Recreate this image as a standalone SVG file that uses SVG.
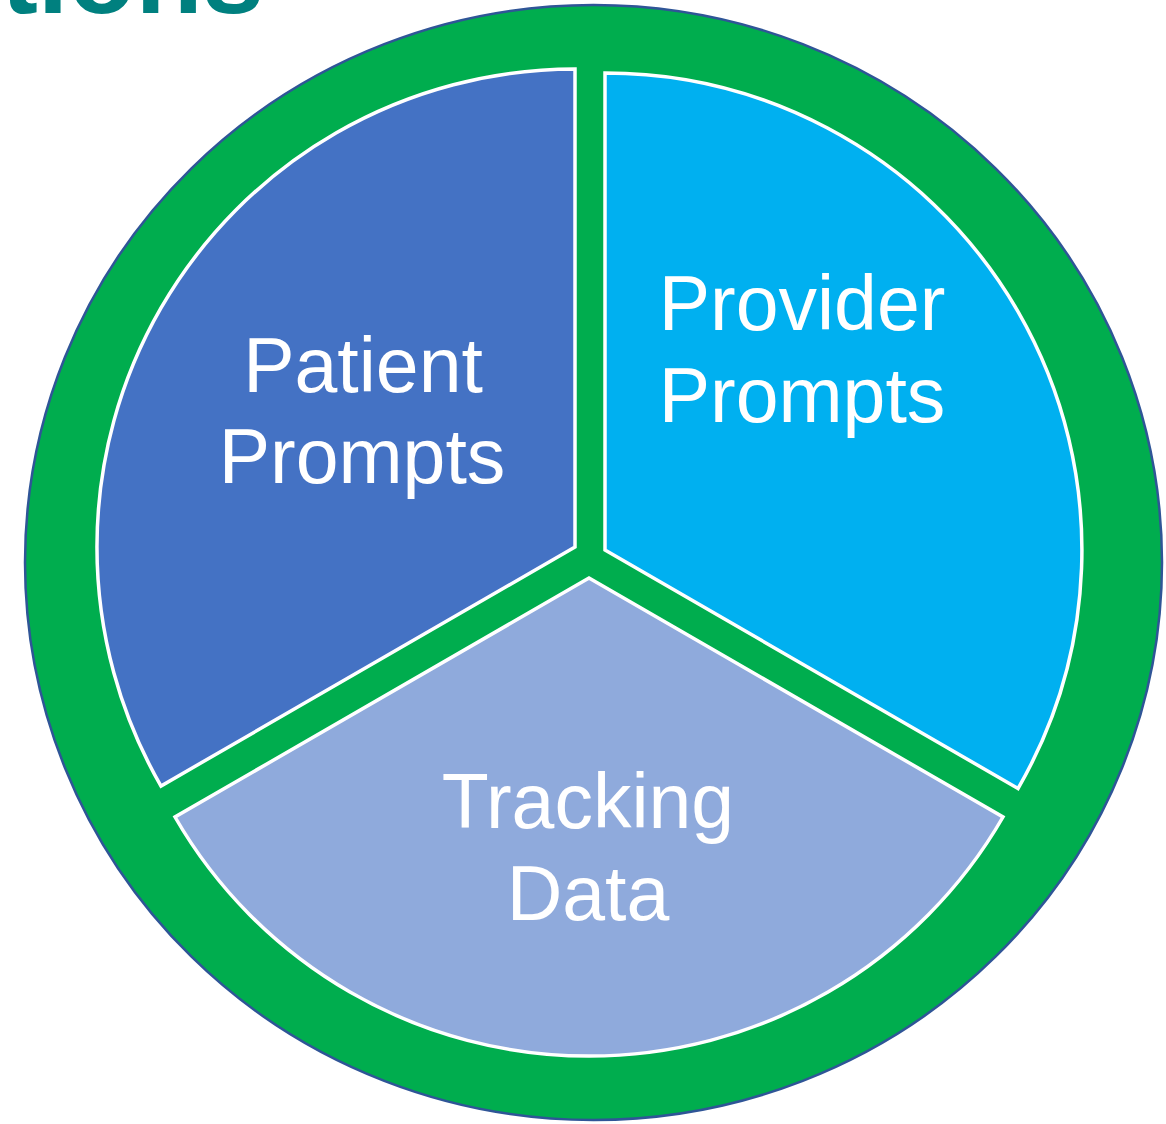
<svg xmlns="http://www.w3.org/2000/svg" width="1166" height="1124" viewBox="0 0 1166 1124">
  <style>
    .wedge { stroke: #FFFFFF; stroke-width: 3.5; stroke-linejoin: miter; }
    .label { font-family: "Liberation Sans", Arial, sans-serif; font-size: 77px; fill: #FFFFFF; text-anchor: middle; }
    .title { font-family: "Liberation Sans", Arial, sans-serif; font-weight: bold; font-size: 110px; fill: #00807F; text-anchor: end; }
  </style>
  <rect width="1166" height="1124" fill="#FFFFFF"/>
  <text class="title" x="264" y="13">tions</text>
  <g id="ring">
    <ellipse cx="593.5" cy="562.5" rx="568.5" ry="557.5" fill="#00AD4E" stroke="#2F5597" stroke-width="2.5"/>
  </g>
  <g id="patient-prompts">
    <path class="wedge" fill="#4472C4" d="M575,547 L575,69 A478,478 0 0 0 161,786 Z"/>
    <text class="label" x="363" y="392">Patient</text>
    <text class="label" x="362" y="483">Prompts</text>
  </g>
  <g id="provider-prompts">
    <path class="wedge" fill="#00B0F0" d="M605,550 L605,73 A477,477 0 0 1 1018,788.5 Z"/>
    <text class="label" x="802" y="330">Provider</text>
    <text class="label" x="802" y="422">Prompts</text>
  </g>
  <g id="tracking-data">
    <path class="wedge" fill="#8FAADC" d="M589,578 L1003,817 A478,478 0 0 1 175,817 Z"/>
    <text class="label" x="588" y="828">Tracking</text>
    <text class="label" x="588" y="920">Data</text>
  </g>
</svg>
